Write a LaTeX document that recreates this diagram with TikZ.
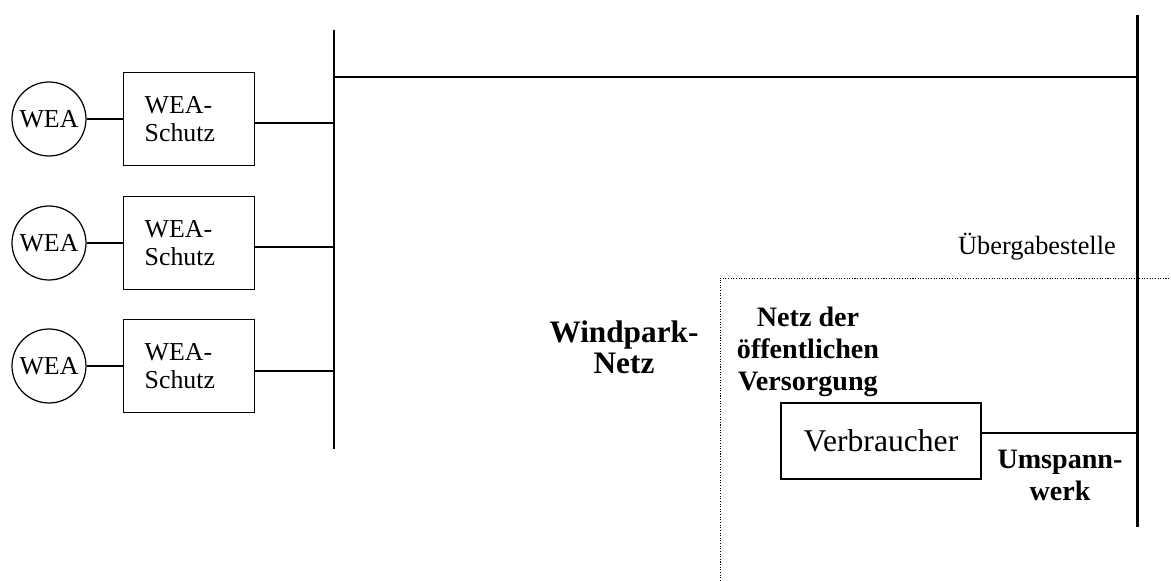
\documentclass[tikz,border=0pt]{standalone}
\usepackage{fontspec}
\setmainfont{Liberation Serif}
\usetikzlibrary{positioning}

\begin{document}
\begin{tikzpicture}[
		x=0.02cm, y=-0.02cm,
		node distance=0.73cm,
		% Estilos de los bloques
		wea/.style={draw, circle, line width=0.7pt, minimum size=1.48cm, inner sep=0pt, font=\fontsize{14.7}{16}\selectfont},
		schutz/.style={draw, rectangle, line width=0.7pt, minimum width=2.62cm, minimum height=1.86cm, text width=1.78cm, align=left, inner sep=0pt, font=\fontsize{14.7}{16}\selectfont},
		load/.style={draw, rectangle, line width=0.9pt, minimum width=4cm, minimum height=1.52cm, inner sep=0pt, font=\fontsize{18}{20}\selectfont},
		label/.style={align=center, inner sep=0pt, font=\bfseries\fontsize{16}{18.2}\selectfont},
		bus/.style={draw, line width=1.7pt},
		feeder/.style={draw, line width=1.3pt},
		thin/.style={draw, line width=0.7pt},
		border/.style={draw, line width=0.5pt, dash pattern=on 0.6pt off 0.9pt}
		]
		\useasboundingbox (0,0) rectangle (1171,581);
		
		% --- NODOS (BLOQUES) ---
		
		% Anlagen und Schutz
		\node [wea] (wea1) at (49,119) {WEA};
		\node [schutz, right=of wea1] (schutz1) {WEA-\\Schutz};
		\node [wea] (wea2) at (49,243) {WEA};
		\node [schutz, right=of wea2] (schutz2) {WEA-\\Schutz};
		\node [wea] (wea3) at (49,366) {WEA};
		\node [schutz, right=of wea3] (schutz3) {WEA-\\Schutz};
		
		% Verbraucher
		\node [load] (verb) at (881,441) {Verbraucher};
		
		% Texte
		\node [label, font=\bfseries\fontsize{17.8}{17.6}\selectfont] (windpark) at (624,347) {Windpark-\\Netz};
		\node [label] (oeff) at (808,352) {Netz der\\öffentlichen\\Versorgung};
		\node [label] (uwerk) at (1060,475) {Umspann-\\werk};
		\node [font=\fontsize{15}{17}\selectfont, inner sep=0pt] (uebergabe) at (1037,247) {Übergabestelle};
		
		% --- SAMMELSCHIENEN ---
		\coordinate (lbtop) at (334,30);
		\coordinate (lbbot) at (334,449);
		\coordinate (rbtop) at (1137,15);
		\coordinate (rbbot) at (1137,527);
		\coordinate (lbj) at (334,77);
		\coordinate (rbj) at (1137,77);
		\draw [bus] (lbtop) -- (lbbot);
		\draw [bus] (rbtop) -- (rbbot);
		\draw [bus] (lbj) -- (rbj);
		
		% --- VERBINDUNGEN ---
		\draw [thin] (wea1) -- (schutz1);
		\draw [thin] (wea2) -- (schutz2);
		\draw [thin] (wea3) -- (schutz3);
		
		\coordinate (f1) at (334,123);
		\coordinate (f2) at (334,247);
		\coordinate (f3) at (334,371);
		\draw [feeder] (schutz1.east |- f1) -- (f1);
		\draw [feeder] (schutz2.east |- f2) -- (f2);
		\draw [feeder] (schutz3.east |- f3) -- (f3);
		
		\coordinate (uw) at (1137,433);
		\draw [feeder] (verb.east |- uw) -- (uw);
		
		% --- NETZGRENZE ---
		\coordinate (dbot) at (720,581);
		\coordinate (dcorner) at (720,278);
		\coordinate (dright) at (1171,278);
		\draw [border] (dbot) -- (dcorner) -- (dright);
		
	\end{tikzpicture}
\end{document}
